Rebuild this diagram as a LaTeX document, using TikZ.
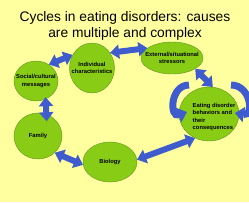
\documentclass[tikz,border=0pt]{standalone}
\usepackage{fontspec}
\setmainfont{Liberation Sans}
\usetikzlibrary{shapes,arrows.meta,positioning}
\definecolor{paleyellow}{RGB}{255,255,160}
\definecolor{leafgreen}{RGB}{136,204,22}
\definecolor{darkleaf}{RGB}{95,150,30}
\definecolor{arrowblue}{RGB}{62,92,205}

\begin{document}
\begin{tikzpicture}[x=1pt, y=1pt,
  bubble/.style={ellipse, draw=darkleaf, fill=leafgreen, inner sep=0pt},
  lbl/.style={font=\fontsize{5.8}{7.5}\selectfont\bfseries, align=center, inner sep=0pt},
  dbl/.style={draw=arrowblue, line width=6pt, {Triangle[width=14pt,length=9pt]}-{Triangle[width=14pt,length=9pt]}},
  loopy/.style={draw=arrowblue, line width=7pt, -{Triangle[width=15pt,length=9pt]}}]
\useasboundingbox (0,0) rectangle (249,-202);
\fill[paleyellow] (0,0) rectangle (249,-202);

\node[font=\fontsize{13.8}{16}\selectfont, align=center] (title) at (125,-26)
  {Cycles in eating disorders: causes\\are multiple and complex};

% the six stages
\node[bubble, minimum width=45, minimum height=50] (ind) at (92,-68) {};
\node[bubble, minimum width=62, minimum height=32] (ext) at (172,-58) {};
\node[bubble, minimum width=44, minimum height=40] (soc) at (36,-81) {};
\node[bubble, minimum width=48, minimum height=46] (fam) at (38,-136) {};
\node[bubble, minimum width=54, minimum height=40] (bio) at (110,-162) {};
\node[bubble, minimum width=60, minimum height=54] (eat) at (209,-114) {};

\node[lbl] (indtxt) at (ind) {Individual\\characteristics};
\node[lbl] (exttxt) at (ext) {External/situational\\stressors};
\node[lbl] (soctxt) at (soc) {Social/cultural\\messages};
\node[lbl] (famtxt) at (fam) {Family};
\node[lbl] (biotxt) at (bio) {Biology};
\node[lbl, align=left] (eattxt) at (214,-117) {Eating disorder\\behaviors and\\their\\consequences};

% links
\draw[dbl] (soc.52) -- (ind.146);
\draw[dbl] (ind.40) -- (ext.158);
\draw[dbl] (ext.-25) -- (eat.82);
\draw[dbl, shorten <=-2pt, shorten >=-7pt] (soc.-62) -- (fam.69);
\draw[dbl] (fam.-45) -- (bio.186);
\draw[dbl] (bio.5) -- (eat.240);

% self loops
\coordinate (eatLs) at (189,-85);
\coordinate (eatL) at (187,-112);
\coordinate (eatRs) at (231,-85);
\coordinate (eatR) at (235,-113);
\draw[loopy] (eatLs) to[out=180, in=200, looseness=1.8] (eatL);
\draw[loopy] (eatRs) to[out=0, in=-10, looseness=1.8] (eatR);
\end{tikzpicture}
\end{document}
